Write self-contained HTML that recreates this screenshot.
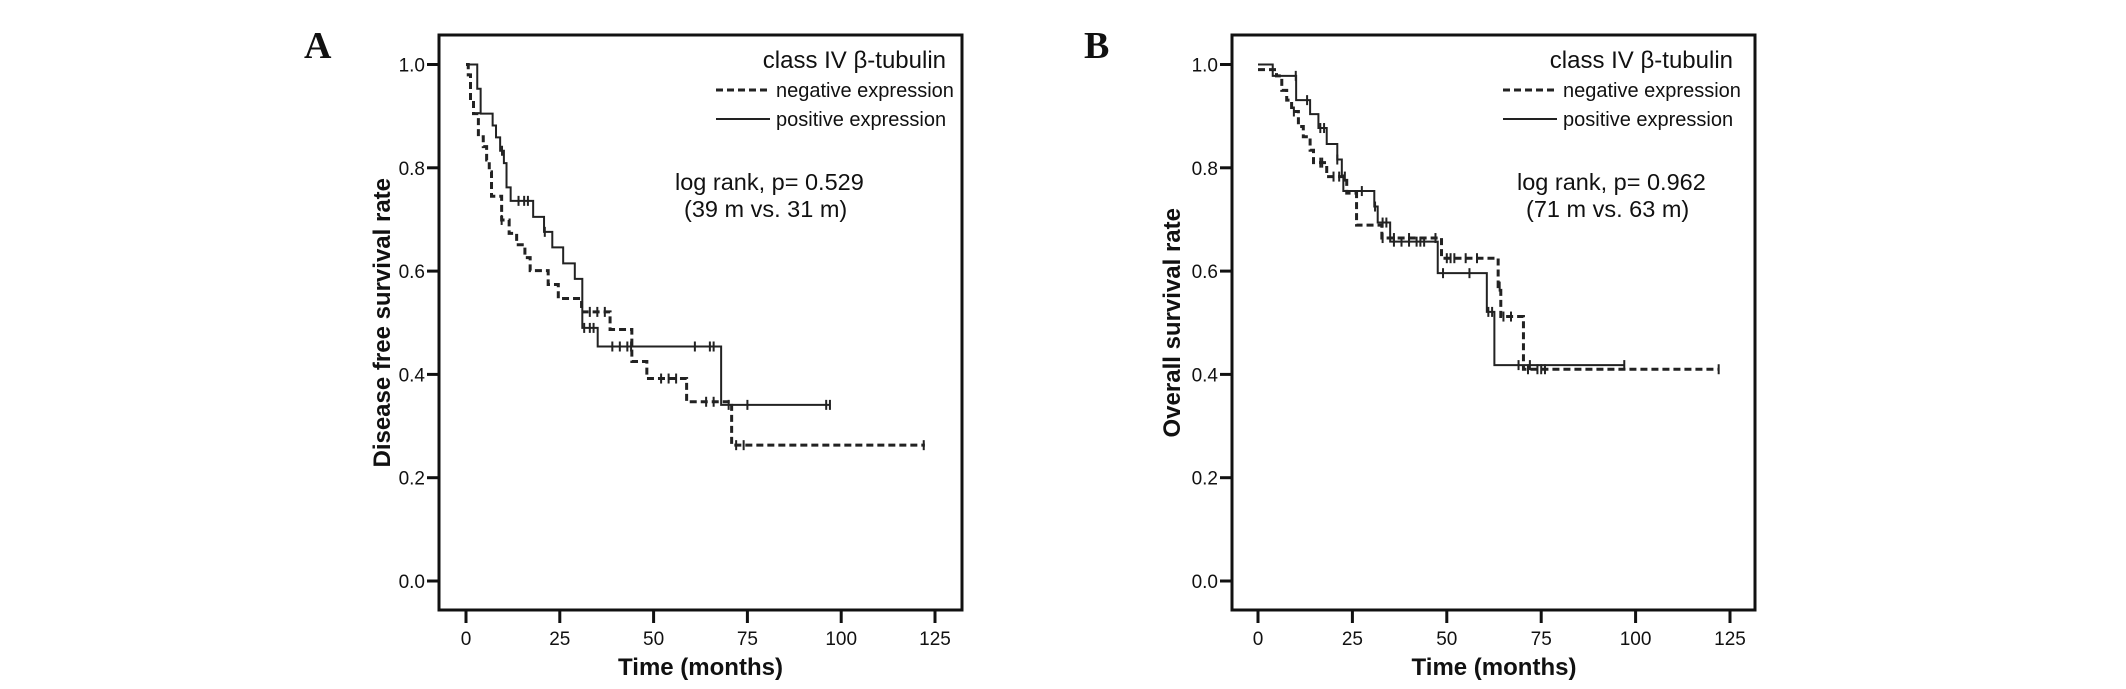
<!DOCTYPE html>
<html><head><meta charset="utf-8"><style>
html,body{margin:0;padding:0;background:#fff}
svg{display:block}
text{font-family:"Liberation Sans",sans-serif;fill:#111}
</style></head><body>
<svg id="fig" width="2126" height="689" viewBox="0 0 2126 689" xmlns="http://www.w3.org/2000/svg"></svg>
<script>
// ---- data ----
const xTicks = [0, 25, 50, 75, 100, 125];
const yTicks = [0.0, 0.2, 0.4, 0.6, 0.8, 1.0];
// Panel A: disease free survival
const aPosTimes = [0, 3.0, 3.9, 7.1, 8.0, 9.1, 10.1, 10.8, 11.9, 17.9, 20.8, 23.0, 25.9, 29.0, 31.0, 35.1, 68.0, 97];
const aPosVals  = [1.0, 0.953, 0.905, 0.882, 0.859, 0.833, 0.809, 0.762, 0.736, 0.705, 0.676, 0.646, 0.615, 0.585, 0.490, 0.454, 0.341, 0.341];
const aPosCens  = [9.6, 14, 15.5, 16.5, 21, 31.5, 33, 34, 39, 41, 43, 44, 61, 65, 66, 70, 75, 96, 97];
const aNegTimes = [0, 0.6, 1.2, 2.0, 3.3, 4.6, 5.5, 6.2, 6.8, 9.5, 11.5, 13.5, 15.7, 17.1, 21.9, 24.6, 30.8, 38.4, 44.2, 48.2, 58.8, 70.8, 122.3];
const aNegVals  = [1.0, 0.98, 0.93, 0.905, 0.86, 0.841, 0.815, 0.792, 0.745, 0.699, 0.673, 0.651, 0.626, 0.601, 0.574, 0.547, 0.521, 0.487, 0.425, 0.392, 0.347, 0.263, 0.263];
const aNegCens  = [9.5, 33, 35, 37, 52, 54, 56, 64, 66, 72, 74, 122];
// Panel B: overall survival
const bPosTimes = [0, 3.9, 10.1, 13.8, 16.0, 18.2, 21.0, 22.2, 22.6, 30.8, 31.7, 35.0, 47.6, 60.6, 62.6, 97];
const bPosVals  = [1.0, 0.978, 0.931, 0.904, 0.877, 0.846, 0.816, 0.785, 0.755, 0.725, 0.694, 0.657, 0.596, 0.521, 0.418, 0.418];
const bPosCens  = [10, 13, 16.5, 17.5, 21, 27.5, 31, 33, 34, 36, 38, 40, 42, 43, 44, 49, 56, 61, 62, 69, 72, 97];
const bNegTimes = [0, 4.9, 6.3, 7.6, 8.9, 10.7, 12.0, 13.8, 14.7, 18.2, 23.5, 26.1, 32.8, 48.6, 63.6, 64.3, 70.3, 122];
const bNegVals  = [0.99, 0.978, 0.95, 0.931, 0.909, 0.88, 0.86, 0.834, 0.81, 0.783, 0.751, 0.689, 0.664, 0.625, 0.57, 0.512, 0.41, 0.41];
const bNegCens  = [9.5, 16.5, 17, 20, 21.5, 23, 33, 36, 40, 47, 50, 51, 52, 55, 58, 64, 65, 67, 71.5, 74, 75, 76, 122];

const NS = "http://www.w3.org/2000/svg";
const svg = document.getElementById('fig');
function mk(tag, attrs, parent){
  const e = document.createElementNS(NS, tag);
  for (const k in attrs) e.setAttribute(k, attrs[k]);
  (parent||svg).appendChild(e);
  return e;
}

function panel(cfg){
  const g = mk('g', {});
  
  
  const X = t => cfg.x0 + t * cfg.xs;
  const Y = v => 581 - v * 516.5;
  const fr = mk('rect', {x:cfg.left, y:35, width:cfg.right-cfg.left, height:575, fill:'none', stroke:'#111', 'stroke-width':3}, g);
  
  
  const L = mk('text', {x:cfg.letterX, y:58, 'font-size':38, 'font-weight':'bold', style:'font-family:"Liberation Serif",serif'}, g);
  L.textContent = cfg.letter;
  
  
  yTicks.forEach(v => {
    const y = Y(v);
    const tk = mk('line', {x1:cfg.left-12, x2:cfg.left, y1:y, y2:y, stroke:'#111', 'stroke-width':3}, g);
    
    
    const t = mk('text', {x:cfg.left-14, y:y+7, 'font-size':19, 'text-anchor':'end'}, g);
    t.textContent = v.toFixed(1);
    
    
  });
  xTicks.forEach(v => {
    const x = X(v);
    const tk = mk('line', {x1:x, x2:x, y1:610, y2:623, stroke:'#111', 'stroke-width':3}, g);
    
    
    const t = mk('text', {x:x, y:645, 'font-size':19, 'text-anchor':'middle'}, g);
    t.textContent = v;
    
    
  });
  const xt = mk('text', {x:X(62.5), y:675, 'font-size':24, 'font-weight':'bold', 'text-anchor':'middle'}, g);
  xt.textContent = 'Time  (months)';
  
  
  const yt = mk('text', {x:0, y:0, 'font-size':24, 'font-weight':'bold', 'text-anchor':'middle', transform:`translate(${cfg.yTitleX},${Y(0.5)}) rotate(-90)`}, g);
  yt.textContent = cfg.yTitle;
  
  
  function curve(times, vals, cens, dashed, nm){
    let d = `M${X(times[0])},${Y(vals[0])}`;
    for (let i=1;i<times.length;i++){
      d += ` H${X(times[i])} V${Y(vals[i])}`;
    }
    const p = mk('path', {d:d, fill:'none', stroke:'#222', 'stroke-width': dashed?3:2, 'stroke-dasharray': dashed?'7,4':'none'}, g);
    
    
    cens.forEach(c => {
      let v = vals[0];
      for (let i=0;i<times.length;i++) if (times[i] <= c) v = vals[i];
      const m = mk('line', {x1:X(c), x2:X(c), y1:Y(v)-5, y2:Y(v)+5, stroke:'#222', 'stroke-width':2}, g);
      
      
    });
  }
  curve(cfg.negT, cfg.negV, cfg.negC, true, 'negative-expression-curve');
  curve(cfg.posT, cfg.posV, cfg.posC, false, 'positive-expression-curve');
  const lg = mk('g', {}, g);
  
  
  const lt = mk('text', {x:cfg.legX+170, y:68, 'font-size':24, 'text-anchor':'end'}, lg);
  lt.textContent = 'class IV β-tubulin';
  
  
  const l1 = mk('line', {x1:cfg.legX-60, x2:cfg.legX-6, y1:90, y2:90, stroke:'#222', 'stroke-width':3, 'stroke-dasharray':'7,4'}, lg);
  
  
  const t1 = mk('text', {x:cfg.legX, y:97, 'font-size':20}, lg);
  t1.textContent = 'negative expression';
  
  
  const l2 = mk('line', {x1:cfg.legX-60, x2:cfg.legX-6, y1:119, y2:119, stroke:'#222', 'stroke-width':2}, lg);
  
  
  const t2 = mk('text', {x:cfg.legX, y:126, 'font-size':20}, lg);
  t2.textContent = 'positive expression';
  
  
  const a1 = mk('text', {x:cfg.logX, y:190, 'font-size':23.5}, g);
  a1.textContent = cfg.p;
  
  
  const a2 = mk('text', {x:cfg.logX+9, y:217, 'font-size':23.5}, g);
  a2.textContent = cfg.med;
  
  
}

panel({name:'panel-a', letter:'A', letterX:304, left:439, right:962, x0:466, xs:3.752, yTitleX:390,
  yTitle:'Disease free survival rate', legX:776, logX:675,
  p:'log rank, p= 0.529', med:'(39 m vs. 31 m)',
  posT:aPosTimes, posV:aPosVals, posC:aPosCens, negT:aNegTimes, negV:aNegVals, negC:aNegCens});
panel({name:'panel-b', letter:'B', letterX:1084, left:1232, right:1755, x0:1258, xs:3.776, yTitleX:1180,
  yTitle:'Overall survival rate', legX:1563, logX:1517,
  p:'log rank, p= 0.962', med:'(71 m vs. 63 m)',
  posT:bPosTimes, posV:bPosVals, posC:bPosCens, negT:bNegTimes, negV:bNegVals, negC:bNegCens});
</script>
</body></html>
